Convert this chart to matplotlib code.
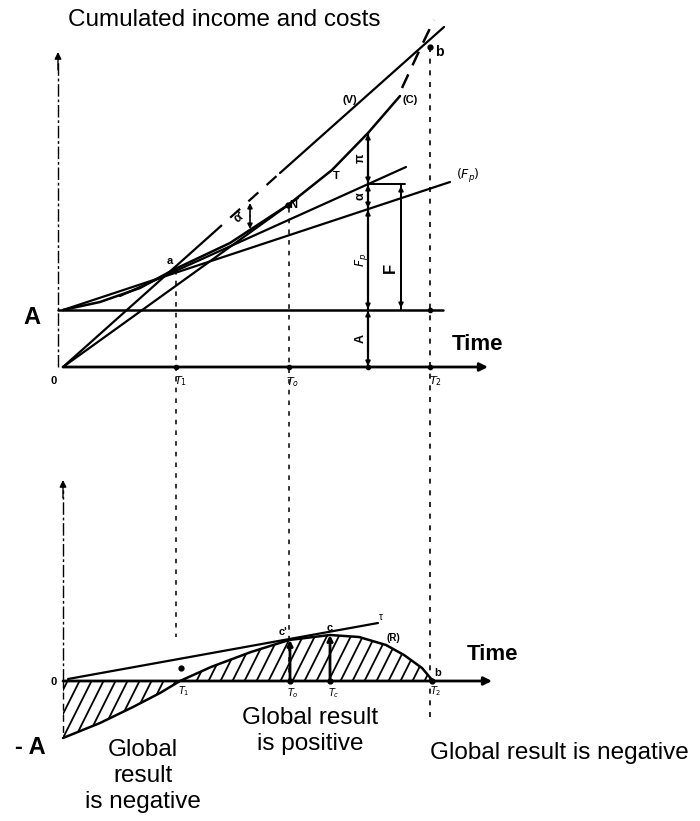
import numpy as np
import matplotlib.pyplot as plt
from matplotlib.patches import Polygon

plt.rcParams['font.family'] = ['Liberation Sans', 'DejaVu Sans']

# the scanned figure is laid out in pixel units (x to the right, y downwards)
W, H = 700, 821

# ---- top panel: cumulated income (V), costs (C), fixed line (Fp) ----
x0, y_axis_top = 63, 367          # origin of the top panel
a_line_y = 310                    # level of the initial cost A
t1_x, t0_x, t2_x, tc_x = 176, 289, 430, 330

v_x = [63, 212, 280, 444]
v_y = [367, 234, 173, 27]

c_x = [63, 100, 140, 173, 230, 288, 332, 368, 400]
c_y = [310, 302, 288, 270, 243, 205, 170, 133, 96]
c_dash_x = [402, 421, 434]
c_dash_y = [88, 47, 20]

fp_x = [63, 450]
fp_y = [310, 182]

tan_a_x = [120, 406]      # tangent to C at a
tan_a_y = [296, 167]
on_x = [63, 298]          # line from origin to N
on_y = [367, 198]

meas_x = 368              # vertical measure under C
meas_y = [367, 310, 209, 184, 133]
meas_lab = ["A", "$F_p$", "α", "π"]

# ---- bottom panel: global result R = V - C ----
y_axis_bot = 681
r_neg_x = [63, 100, 133, 160, 180]
r_neg_y = [738, 723, 707, 693, 681]
r_pos_x = [180, 211, 251, 289, 330, 359, 386, 404, 422, 433]
r_pos_y = [681, 667, 652, 640, 635, 637, 645, 655, 668, 681]
tau_x = [68, 378]
tau_y = [679, 623]

fig = plt.figure(figsize=(W / 100, H / 100), dpi=100)
ax = fig.add_axes([0, 0, 1, 1])
ax.set_xlim(0, W)
ax.set_ylim(H, 0)
ax.axis("off")

k = dict(color="black", solid_capstyle="round")
dash = (0, (3, 4))
axdash = (0, (9, 2, 2, 2))


def arrow(x1, y1, x2, y2, style="-|>", lw=1.6, ms=12):
    ax.annotate("", xy=(x2, y2), xytext=(x1, y1),
                arrowprops=dict(arrowstyle=style, lw=lw, color="black",
                                mutation_scale=ms, shrinkA=0, shrinkB=0))


# axes of the top panel
ax.plot([58, 58], [y_axis_top, 62], lw=1.0, ls=axdash, **k)
arrow(58, 70, 58, 52, lw=1.0, ms=10)
arrow(x0, y_axis_top, 488, y_axis_top, lw=2.0, ms=12)
ax.plot([58, 443], [a_line_y, a_line_y], lw=1.8, **k)

# dashed time markers
ax.plot([t1_x, t1_x], [270, 637], lw=1.1, ls=dash, **k)
ax.plot([t0_x, t0_x], [208, 681], lw=1.1, ls=dash, **k)
ax.plot([t2_x, t2_x], [47, 723], lw=1.2, ls=dash, **k)

# curves
ax.plot(v_x[:2], v_y[:2], lw=1.6, **k)
ax.plot(v_x[1:3], v_y[1:3], lw=1.6, ls=(0, (6, 5)), **k)
ax.plot(v_x[2:], v_y[2:], lw=1.6, **k)
ax.plot(c_x, c_y, lw=1.8, **k)
ax.plot(c_dash_x, c_dash_y, lw=1.8, ls=(0, (6, 4)), **k)
ax.plot(fp_x, fp_y, lw=1.6, **k)
ax.plot(tan_a_x, tan_a_y, lw=1.6, **k)
ax.plot(on_x, on_y, lw=1.6, **k)

# vertical measure at the right with its parts
ax.plot([meas_x, meas_x], [meas_y[0], meas_y[-1]], lw=1.6, **k)
for i in range(len(meas_lab)):
    mid = (meas_y[i] + meas_y[i + 1]) / 2
    arrow(meas_x, mid, meas_x, meas_y[i] - 1, lw=1.2, ms=7)
    arrow(meas_x, mid, meas_x, meas_y[i + 1] + 1, lw=1.2, ms=7)
    ax.text(meas_x - 7, mid, meas_lab[i], rotation=90, ha="center",
            va="center", fontsize=9, fontweight="bold")

# bracket F
ax.plot([meas_x, 405], [184, 184], lw=1.4, **k)
ax.plot([401, 401], [184, 310], lw=1.4, **k)
arrow(401, 250, 401, 186, lw=1.2, ms=7)
arrow(401, 250, 401, 308, lw=1.2, ms=7)
ax.text(390, 268, "F", rotation=90, ha="center", va="center", fontsize=12,
        fontweight="bold")

# alpha' marker between V and C
arrow(250, 216, 250, 203, lw=1.2, ms=7)
arrow(250, 216, 250, 229, lw=1.2, ms=7)
ax.text(240, 217, "α'", ha="center", va="center", fontsize=9,
        fontweight="bold", rotation=40)

# points
ax.plot([t1_x - 2, t0_x - 1, t2_x], [270, 205, 47], "o", ms=3.5, color="black")
ax.plot([t1_x, t0_x, t2_x, t2_x, meas_x], [y_axis_top] * 3 + [a_line_y, y_axis_top],
        "o", ms=3, color="black")

# small labels top
small = dict(fontsize=8, fontweight="bold", ha="center", va="center")
ax.text(170, 261, "a", **small)
ax.text(293, 205, "N", **small)
ax.text(336, 176, "T", **small)
ax.text(439, 52, "b", fontsize=10, fontweight="bold", ha="center", va="center")
ax.text(350, 100, "(V)", **small)
ax.text(410, 100, "(C)", **small)
ax.text(468, 176, "$(F_p)$", fontsize=9, ha="center", va="center")
ax.text(54, 381, "0", **small)
ax.text(181, 381, "$T_1$", fontsize=8, ha="center", va="center")
ax.text(293, 382, "$T_o$", fontsize=8, ha="center", va="center")
ax.text(435, 381, "$T_2$", fontsize=8, ha="center", va="center")

big = dict(fontweight="bold", color="black")
ax.text(68, 20, "Cumulated income and costs", fontsize=17.5, ha="left",
        va="center")
ax.text(32, 318, "A", fontsize=17, ha="center", va="center", **big)
ax.text(452, 344, "Time", fontsize=16, ha="left", va="center", **big)

# ---- bottom panel ----
ax.plot([x0, x0], [y_axis_bot, 490], lw=1.0, ls=axdash, **k)
arrow(x0, 498, x0, 480, lw=1.0, ms=10)
ax.plot([x0, x0], [y_axis_bot, 738], lw=1.0, ls=(0, (5, 3)), **k)
arrow(x0, y_axis_bot, 492, y_axis_bot, lw=2.0, ms=12)

r_x = r_neg_x + r_pos_x[1:]
r_y = r_neg_y + r_pos_y[1:]
ax.plot(r_x, r_y, lw=1.8, **k)
ax.plot(tau_x, tau_y, lw=1.6, **k)

# hatching clipped to the area between R and the time axis
for xs, ys in [(r_neg_x, r_neg_y), (r_pos_x, r_pos_y)]:
    verts = list(zip(xs, ys)) + [(xs[-1], y_axis_bot), (xs[0], y_axis_bot)]
    poly = Polygon(verts, closed=True, facecolor="none", edgecolor="none")
    ax.add_patch(poly)
    for off in np.arange(xs[0] - 90, xs[-1] + 10, 12):
        ln, = ax.plot([off, off + 80], [750, 590], lw=1.3, color="black")
        ln.set_clip_path(poly)

# result at T0 and Tc
arrow(t0_x + 1, y_axis_bot, t0_x + 1, 640, lw=2.0, ms=8)
arrow(tc_x, y_axis_bot, tc_x, 635, lw=2.0, ms=8)
ax.plot([t0_x + 1, tc_x], [y_axis_bot] * 2, "o", ms=3.5, color="black")
ax.plot([181, 432], [668, 681], "o", ms=3.5, color="black")

ax.text(54, 682, "0", **small)
ax.text(283, 632, "c'", **small)
ax.text(330, 628, "c", **small)
ax.text(381, 617, "τ", fontsize=7, ha="center", va="center")
ax.text(393, 638, "(R)", fontsize=7, fontweight="bold", ha="center", va="center")
ax.text(438, 673, "b", **small)
ax.text(184, 691, "$T_1$", fontsize=7, ha="center", va="center")
ax.text(293, 693, "$T_o$", fontsize=7, ha="center", va="center")
ax.text(334, 693, "$T_c$", fontsize=7, ha="center", va="center")
ax.text(436, 691, "$T_2$", fontsize=7, ha="center", va="center")

ax.text(467, 654, "Time", fontsize=16, ha="left", va="center", **big)
ax.text(30, 747, "- A", fontsize=17, ha="center", va="center", **big)
ax.text(143, 776, "Global\nresult\nis negative", fontsize=17.5, ha="center",
        va="center", linespacing=1.25)
ax.text(310, 731, "Global result\nis positive", fontsize=17.5, ha="center",
        va="center", linespacing=1.25)
ax.text(559, 753, "Global result is negative", fontsize=17.5, ha="center",
        va="center")

fig.savefig("out.png", dpi=100, facecolor="white")
